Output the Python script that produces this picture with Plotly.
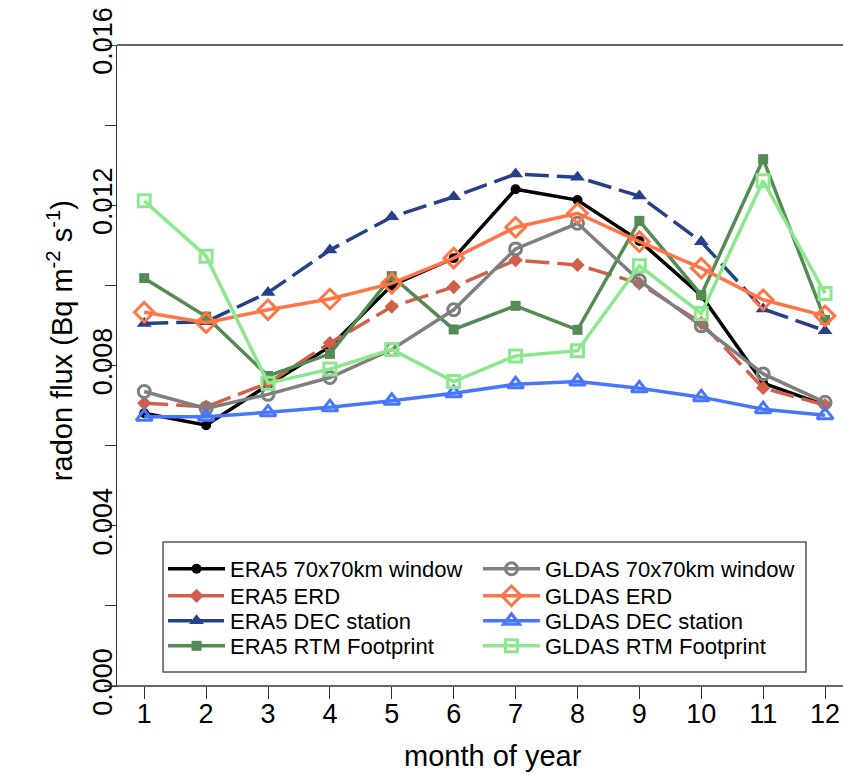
import plotly.graph_objects as go

months = list(range(1, 13))

era5_70 = [0.00681, 0.00651, 0.00751, 0.00847, 0.0100, 0.01068, 0.01240, 0.01213, 0.01111, 0.00975, 0.00756, 0.00701]
era5_erd = [0.00706, 0.00697, 0.00756, 0.00856, 0.00947, 0.00996, 0.01063, 0.01051, 0.01005, 0.00906, 0.00744, 0.00701]
era5_dec = [0.00905, 0.00909, 0.00982, 0.01088, 0.01171, 0.01221, 0.01278, 0.01270, 0.01223, 0.01109, 0.00941, 0.00887]
era5_rtm = [0.01018, 0.00922, 0.00774, 0.00829, 0.01023, 0.00890, 0.00949, 0.00889, 0.01161, 0.00976, 0.01315, 0.00914]
gldas_70 = [0.00735, 0.00693, 0.00728, 0.00770, 0.00840, 0.00939, 0.01091, 0.01155, 0.01012, 0.00899, 0.00779, 0.00708]
gldas_erd = [0.00933, 0.00907, 0.00939, 0.00966, 0.01005, 0.01068, 0.01145, 0.01180, 0.01109, 0.01043, 0.00964, 0.00924]
gldas_dec = [0.00672, 0.00672, 0.00683, 0.00696, 0.00712, 0.00731, 0.00753, 0.00760, 0.00743, 0.00721, 0.00691, 0.00676]
gldas_rtm = [0.01211, 0.01073, 0.00756, 0.00791, 0.00840, 0.00760, 0.00824, 0.00837, 0.01049, 0.00930, 0.01261, 0.00980]

y_tickvals = [0, 0.004, 0.008, 0.012, 0.016]
y_ticktext = ["0.000", "0.004", "0.008", "0.012", "0.016"]
y_minorvals = [0.002, 0.006, 0.010, 0.014]

series = [
    ("ERA5 70x70km window", era5_70, "#000000", "circle", 10, "solid"),
    ("ERA5 ERD", era5_erd, "#D0604A", "diamond", 11, "24px,8px"),
    ("ERA5 DEC station", era5_dec, "#27408B", "triangle-up", 13, "24px,8px"),
    ("ERA5 RTM Footprint", era5_rtm, "#548B54", "square", 10, "solid"),
    ("GLDAS 70x70km window", gldas_70, "#7F7F7F", "circle-open", 12, "solid"),
    ("GLDAS ERD", gldas_erd, "#FF7545", "diamond-open", 15, "solid"),
    ("GLDAS DEC station", gldas_dec, "#4876FF", "triangle-up-open", 14, "solid"),
    ("GLDAS RTM Footprint", gldas_rtm, "#8CE88C", "square-open", 12, "solid"),
]

# plot area spans 726 x 641 px; legend rows/columns in paper fractions
row_y = [0.1825, 0.1404, 0.1014, 0.0624]
col_x = [0.0634, 0.4972]

fig = go.Figure()
legend_layouts = {}
for i, (name, vals, col, sym, size, dash) in enumerate(series):
    openm = sym.endswith("open")
    key = "legend" if i == 0 else f"legend{i + 1}"
    fig.add_trace(go.Scatter(
        x=months, y=vals, name=name, mode="lines+markers",
        line=dict(color=col, width=3.5, dash=dash),
        marker=dict(symbol=sym, size=size, color=col,
                    line=dict(color=col, width=3 if openm else 0)),
        legend=key,
    ))
    legend_layouts[key] = dict(
        x=col_x[i // 4], y=row_y[i % 4], xanchor="left", yanchor="middle",
        bgcolor="rgba(0,0,0,0)", font=dict(size=22), itemwidth=57,
        borderwidth=0,
    )

font_family = "Liberation Sans, Arial, sans-serif"

fig.update_layout(
    width=843, height=775,
    margin=dict(l=117, r=0, t=45, b=89),
    paper_bgcolor="white", plot_bgcolor="white",
    font=dict(family=font_family, color="black", size=20),
    xaxis=dict(
        range=[0.56, 12.29], tickvals=months, ticktext=[str(m) for m in months],
        showgrid=False, zeroline=False, showline=False,
        ticks="outside", ticklen=12, tickwidth=1.3, tickcolor="#333",
        tickfont=dict(size=27), ticklabelstandoff=-8, ticklabeloverflow="allow",
    ),
    yaxis=dict(
        range=[0, 0.016], tickvals=y_tickvals, ticktext=y_ticktext,
        tickangle=-90, showgrid=False, zeroline=False,
        showline=True, linecolor="#333", linewidth=1.3,
        ticks="outside", ticklen=11, tickwidth=1.3, tickcolor="#333",
        tickfont=dict(size=27), ticklabelstandoff=-18, ticklabeloverflow="allow",
        minor=dict(tickmode="array", tickvals=y_minorvals, ticks="outside",
                   ticklen=11, tickwidth=1.3, tickcolor="#333", showgrid=False),
    ),
    showlegend=True,
    **legend_layouts,
)

fig.add_annotation(
    text="radon flux (Bq m<sup>-2</sup> s<sup>-1</sup>)", textangle=-90,
    xref="paper", yref="paper", x=-0.0785, y=0.538, xanchor="center", yanchor="middle",
    showarrow=False, font=dict(size=29),
)
fig.add_annotation(
    text="month of year",
    xref="paper", yref="paper", x=(493 - 117) / 726, y=-(756 - 686) / 641,
    xanchor="center", yanchor="middle", showarrow=False, font=dict(size=29),
)

# top border and extended bottom axis line
fig.add_shape(type="line", xref="paper", yref="paper", x0=0, x1=1, y0=1, y1=1,
              line=dict(color="#333", width=1.3))
fig.add_shape(type="line", xref="paper", yref="paper", x0=-0.018, x1=1, y0=0, y1=0,
              line=dict(color="#333", width=1.3))
# legend box
fig.add_shape(type="rect", xref="paper", yref="paper", x0=0.0634, x1=0.949, y0=0.0218, y1=0.2247,
              line=dict(color="#555", width=1.5), fillcolor="rgba(0,0,0,0)", layer="below")

fig.write_html(
    "out.html",
    config={"displayModeBar": False},
    post_script="document.body.style.margin='0';document.body.style.overflow='hidden';",
)
